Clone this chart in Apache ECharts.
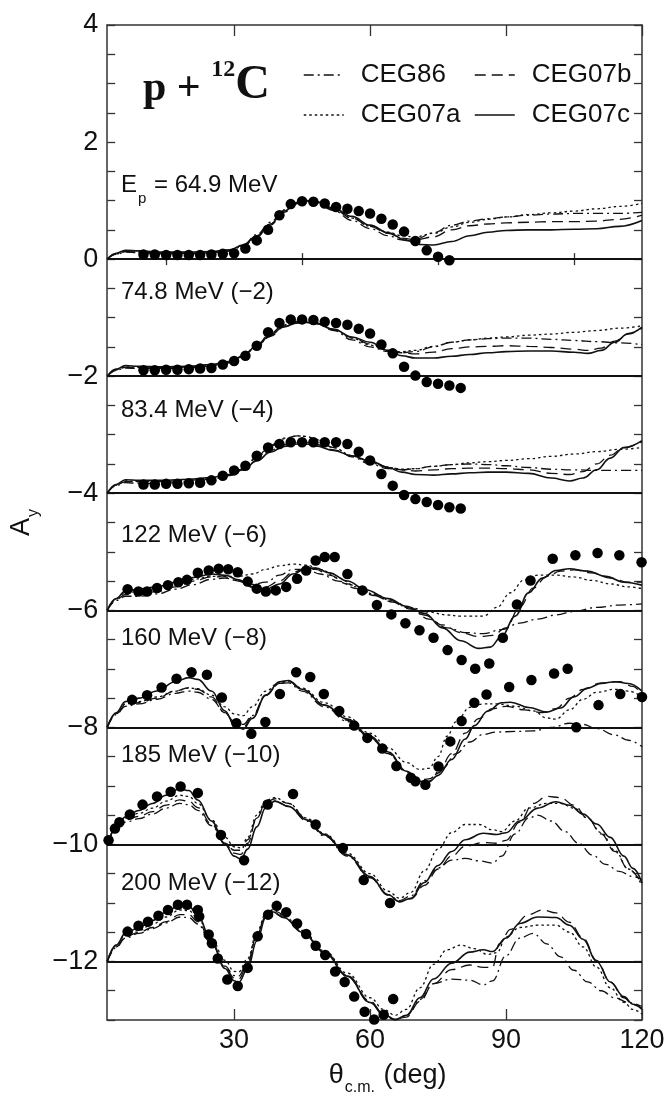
<!DOCTYPE html>
<html>
<head>
<meta charset="utf-8">
<title>p + 12C analyzing power</title>
<script src="https://cdn.jsdelivr.net/npm/echarts@6.0.0/dist/echarts.min.js"></script>
<style>
  html, body { margin: 0; padding: 0; background: #fff; }
  #chart { width: 670px; height: 1101px; }
</style>
</head>
<body>
<div id="chart"></div>
<script>
// 数据: [theta_cm (deg), A_y 已平移]
const xTicks = [30, 60, 90, 120];
const xMinorTicks = [15, 45, 75, 105];
const baselines = [0, -2, -4, -6, -8, -10, -12];
const energyLabels = ['{a|E}{s|p}{a| = 64.9 MeV}', '74.8 MeV (−2)', '83.4 MeV (−4)', '122 MeV (−6)',
  '160 MeV (−8)', '185 MeV (−10)', '200 MeV (−12)'];

// 64.9 MeV
const pts1 = [[10,0.08],[12.5,0.08],[15,0.07],[17.5,0.07],[20,0.07],[22.5,0.07],[25,0.08],[27.5,0.09],[30,0.1],[32.5,0.18],[35,0.32],[37.5,0.5],[40,0.75],[42.5,0.94],[45,0.99],[47.5,0.98],[50,0.95],[52.5,0.89],[55,0.86],[57.5,0.82],[60,0.78],[62.5,0.69],[65,0.59],[67.5,0.47],[70,0.31],[72.5,0.15],[75,0.04],[77.5,-0.02]];
const c1 = [[2,0],[4,0.1],[6,0.15],[9,0.14],[14,0.12],[20,0.12],[25,0.13],[29,0.16],[32,0.24],[35,0.4],[38,0.6],[41,0.82],[44,0.96],[46,1.0],[48,0.98],[52,0.87],[56,0.73],[60,0.58],[64,0.45],[68,0.32],[71,0.25],[74,0.24],[78,0.3],[82,0.4],[86,0.46],[90,0.49],[95,0.5],[100,0.5],[105,0.51],[110,0.52],[115,0.56],[120,0.66]];
const b1 = [[2,0],[4,0.09],[6,0.13],[9,0.12],[14,0.1],[20,0.1],[25,0.11],[29,0.14],[32,0.22],[35,0.38],[38,0.58],[41,0.8],[44,0.95],[46,0.99],[48,0.97],[52,0.85],[56,0.7],[60,0.56],[64,0.44],[67,0.36],[70,0.33],[74,0.38],[78,0.5],[82,0.57],[86,0.6],[90,0.62],[95,0.63],[100,0.64],[105,0.64],[110,0.65],[115,0.68],[120,0.75]];
const d1 = [[2,0],[4,0.08],[6,0.12],[9,0.11],[14,0.09],[20,0.09],[25,0.1],[29,0.14],[32,0.24],[35,0.42],[38,0.63],[41,0.84],[44,0.97],[46,1.0],[48,0.97],[52,0.83],[56,0.66],[60,0.52],[64,0.4],[67,0.33],[70,0.34],[74,0.45],[78,0.58],[82,0.65],[86,0.69],[90,0.72],[95,0.75],[100,0.77],[105,0.78],[110,0.78],[115,0.78],[120,0.8]];
const a1 = [[2,0],[4,0.09],[6,0.13],[9,0.12],[14,0.1],[20,0.1],[25,0.11],[29,0.14],[32,0.22],[35,0.38],[38,0.6],[41,0.83],[44,0.97],[46,1.0],[48,0.98],[52,0.86],[56,0.7],[60,0.56],[64,0.46],[67,0.4],[70,0.38],[74,0.44],[78,0.55],[82,0.63],[86,0.68],[90,0.72],[95,0.76],[100,0.79],[105,0.82],[110,0.86],[115,0.9],[120,0.95]];

// 74.8 MeV (-2)
const pts2 = [[10,-1.9],[12.5,-1.9],[15,-1.89],[17.5,-1.89],[20,-1.88],[22.5,-1.87],[25,-1.86],[27.5,-1.8],[30,-1.74],[32.5,-1.65],[35,-1.48],[37.5,-1.25],[40,-1.09],[42.5,-1.03],[45,-1.03],[47.5,-1.04],[50,-1.07],[52.5,-1.09],[55,-1.12],[57.5,-1.19],[60,-1.27],[62.5,-1.46],[65,-1.61],[67.5,-1.84],[70,-1.99],[72.5,-2.1],[75,-2.13],[77.5,-2.16],[80,-2.2]];
const c2 = [[2,-2],[4,-1.88],[6,-1.82],[9,-1.83],[14,-1.84],[20,-1.83],[25,-1.8],[29,-1.75],[32,-1.65],[35,-1.48],[38,-1.3],[41,-1.15],[44,-1.09],[46,-1.08],[48,-1.1],[52,-1.2],[56,-1.33],[60,-1.42],[64,-1.56],[67,-1.65],[70,-1.69],[74,-1.69],[78,-1.66],[82,-1.63],[86,-1.6],[90,-1.58],[95,-1.57],[100,-1.57],[105,-1.59],[108,-1.61],[111,-1.56],[114,-1.42],[117,-1.27],[120,-1.16]];
const b2 = [[2,-2],[4,-1.9],[6,-1.85],[9,-1.86],[14,-1.86],[20,-1.85],[25,-1.82],[29,-1.77],[32,-1.67],[35,-1.5],[38,-1.32],[41,-1.16],[44,-1.09],[46,-1.08],[48,-1.1],[52,-1.2],[56,-1.34],[60,-1.45],[64,-1.55],[67,-1.6],[70,-1.62],[74,-1.59],[78,-1.53],[82,-1.5],[86,-1.49],[90,-1.48],[95,-1.49],[100,-1.51],[105,-1.54],[108,-1.56],[111,-1.52],[114,-1.4],[117,-1.28],[120,-1.18]];
const d2 = [[2,-2],[4,-1.9],[6,-1.86],[9,-1.87],[14,-1.87],[20,-1.86],[25,-1.83],[29,-1.77],[32,-1.65],[35,-1.46],[38,-1.27],[41,-1.12],[44,-1.06],[46,-1.06],[48,-1.09],[52,-1.22],[56,-1.38],[60,-1.5],[64,-1.58],[67,-1.6],[70,-1.58],[74,-1.5],[78,-1.42],[82,-1.38],[86,-1.36],[90,-1.35],[95,-1.35],[100,-1.37],[105,-1.39],[110,-1.41],[115,-1.43],[120,-1.46]];
const a2 = [[2,-2],[4,-1.89],[6,-1.84],[9,-1.85],[14,-1.85],[20,-1.84],[25,-1.81],[29,-1.76],[32,-1.66],[35,-1.49],[38,-1.3],[41,-1.14],[44,-1.07],[46,-1.06],[48,-1.08],[52,-1.2],[56,-1.35],[60,-1.47],[64,-1.56],[67,-1.58],[70,-1.56],[74,-1.49],[78,-1.42],[82,-1.38],[86,-1.35],[90,-1.33],[95,-1.3],[100,-1.28],[105,-1.25],[110,-1.22],[115,-1.18],[120,-1.14]];

// 83.4 MeV (-4)
const pts3 = [[10,-3.85],[12.5,-3.85],[15,-3.84],[17.5,-3.84],[20,-3.83],[22.5,-3.82],[25,-3.78],[27.5,-3.7],[30,-3.61],[32.5,-3.53],[35,-3.36],[37.5,-3.22],[40,-3.16],[42.5,-3.13],[45,-3.13],[47.5,-3.13],[50,-3.13],[52.5,-3.13],[55,-3.16],[57.5,-3.29],[60,-3.44],[62.5,-3.67],[65,-3.87],[67.5,-4.03],[70,-4.1],[72.5,-4.15],[75,-4.2],[77.5,-4.24],[80,-4.26]];
const c3 = [[2,-4],[4,-3.85],[6,-3.77],[9,-3.78],[14,-3.78],[20,-3.76],[25,-3.73],[29,-3.68],[32,-3.6],[35,-3.45],[38,-3.3],[41,-3.2],[44,-3.16],[46,-3.16],[48,-3.19],[52,-3.27],[56,-3.36],[60,-3.45],[64,-3.56],[67,-3.64],[70,-3.68],[74,-3.69],[78,-3.67],[82,-3.65],[86,-3.64],[90,-3.64],[95,-3.66],[100,-3.74],[104,-3.79],[107,-3.74],[110,-3.6],[113,-3.4],[116,-3.22],[120,-3.1]];
const b3 = [[2,-4],[4,-3.86],[6,-3.8],[9,-3.8],[14,-3.8],[20,-3.78],[25,-3.75],[29,-3.69],[32,-3.6],[35,-3.44],[38,-3.27],[41,-3.17],[44,-3.13],[46,-3.13],[48,-3.16],[52,-3.26],[56,-3.36],[60,-3.45],[64,-3.55],[67,-3.6],[70,-3.62],[74,-3.6],[78,-3.58],[82,-3.57],[86,-3.57],[90,-3.58],[95,-3.6],[100,-3.66],[104,-3.68],[107,-3.63],[110,-3.5],[113,-3.35],[116,-3.22],[120,-3.12]];
const d3 = [[2,-4],[4,-3.87],[6,-3.82],[9,-3.83],[14,-3.83],[20,-3.8],[25,-3.76],[29,-3.7],[32,-3.58],[35,-3.38],[38,-3.18],[41,-3.06],[44,-3.02],[46,-3.03],[48,-3.08],[52,-3.22],[56,-3.38],[60,-3.5],[64,-3.58],[67,-3.6],[70,-3.58],[74,-3.54],[78,-3.51],[82,-3.5],[86,-3.51],[90,-3.53],[95,-3.56],[100,-3.59],[105,-3.6],[110,-3.61],[115,-3.61],[120,-3.61]];
const a3 = [[2,-4],[4,-3.86],[6,-3.79],[9,-3.8],[14,-3.8],[20,-3.78],[25,-3.74],[29,-3.68],[32,-3.58],[35,-3.4],[38,-3.2],[41,-3.07],[44,-3.02],[46,-3.03],[48,-3.08],[52,-3.22],[56,-3.36],[60,-3.48],[64,-3.56],[67,-3.59],[70,-3.58],[74,-3.54],[78,-3.51],[82,-3.48],[86,-3.46],[90,-3.44],[95,-3.41],[100,-3.37],[105,-3.33],[110,-3.29],[115,-3.25],[120,-3.22]];

// 122 MeV (-6)
const pts4 = [[6.5,-5.64],[8.9,-5.68],[10.8,-5.68],[13,-5.62],[15.4,-5.57],[17.7,-5.52],[19.6,-5.48],[22,-5.36],[24.4,-5.32],[26.6,-5.29],[28.7,-5.3],[30.8,-5.35],[33,-5.51],[35,-5.63],[37,-5.68],[39.2,-5.66],[41.5,-5.6],[43.9,-5.46],[45.9,-5.32],[48,-5.15],[50,-5.09],[52.2,-5.09],[55,-5.38],[58.3,-5.66],[61.5,-5.91],[64.7,-6.07],[67.8,-6.22],[70.9,-6.34],[74,-6.47],[77.1,-6.68],[80.2,-6.85],[83.2,-7.0],[86.3,-6.91],[89.3,-6.47],[92.4,-5.9],[95.4,-5.49],[100.3,-5.12],[105.3,-5.06],[110.2,-5.02],[115,-5.06],[119.9,-5.18]];
const c4 = [[2,-6],[4,-5.8],[6,-5.67],[9,-5.64],[13,-5.6],[17,-5.52],[21,-5.44],[25,-5.38],[28,-5.4],[31,-5.48],[34,-5.6],[37,-5.64],[40,-5.55],[43,-5.38],[46,-5.28],[48,-5.28],[51,-5.36],[55,-5.5],[59,-5.65],[64,-5.8],[68,-5.93],[72,-6.05],[76,-6.3],[80,-6.52],[84,-6.65],[86.5,-6.63],[89,-6.45],[92,-6.1],[95,-5.7],[98,-5.45],[101,-5.32],[104,-5.29],[108,-5.33],[112,-5.42],[116,-5.52],[120,-5.57]];
const b4 = [[2,-6],[4,-5.82],[6,-5.73],[9,-5.73],[13,-5.68],[17,-5.6],[21,-5.5],[25,-5.43],[28,-5.43],[31,-5.5],[34,-5.6],[37,-5.6],[40,-5.5],[43,-5.35],[46,-5.28],[48,-5.3],[51,-5.4],[55,-5.55],[59,-5.68],[64,-5.82],[68,-5.95],[72,-6.08],[76,-6.25],[80,-6.38],[84,-6.45],[87,-6.43],[90,-6.3],[93,-5.95],[96,-5.62],[99,-5.42],[102,-5.33],[105,-5.31],[109,-5.36],[113,-5.45],[117,-5.52],[120,-5.52]];
const d4 = [[2,-6],[4,-5.83],[6,-5.76],[9,-5.76],[13,-5.72],[17,-5.64],[21,-5.56],[25,-5.47],[28,-5.45],[31,-5.5],[34,-5.56],[37,-5.52],[40,-5.4],[43,-5.3],[46,-5.3],[49,-5.38],[53,-5.5],[57,-5.63],[61,-5.75],[65,-5.86],[69,-5.98],[73,-6.15],[77,-6.3],[81,-6.38],[85,-6.4],[89,-6.33],[93,-6.22],[97,-6.15],[101,-6.08],[105,-6.02],[110,-5.95],[115,-5.91],[120,-5.89]];
const a4 = [[2,-6],[4,-5.8],[6,-5.7],[9,-5.68],[13,-5.63],[17,-5.55],[21,-5.47],[25,-5.42],[28,-5.42],[31,-5.42],[34,-5.38],[37,-5.3],[40,-5.24],[43,-5.21],[46,-5.23],[49,-5.3],[53,-5.45],[57,-5.6],[61,-5.73],[65,-5.85],[69,-5.96],[73,-6.03],[77,-6.08],[80,-6.1],[82,-6.1],[85,-6.1],[88,-5.95],[91,-5.7],[94,-5.48],[97,-5.4],[101,-5.4],[105,-5.43],[109,-5.49],[113,-5.55],[117,-5.6],[120,-5.63]];

// 160 MeV (-8)
const pts5 = [[7.5,-7.53],[10.8,-7.45],[14,-7.32],[17.3,-7.17],[20.6,-7.06],[24,-7.1],[27.3,-7.49],[30.5,-7.93],[33.8,-8.11],[36.9,-7.91],[40.1,-7.43],[43.7,-7.06],[46.8,-7.14],[49.8,-7.43],[53.2,-7.72],[56.5,-7.97],[59.4,-8.18],[62.7,-8.36],[65.8,-8.66],[69,-8.86],[70,-8.92],[72.2,-8.98],[75.1,-8.67],[77.7,-8.24],[80.2,-7.89],[83,-7.58],[85.7,-7.44],[90.7,-7.31],[95.6,-7.19],[100.6,-7.08],[103.6,-7.0],[105.5,-8.0],[110.4,-7.62],[115.2,-7.43],[120,-7.48]];
const c5 = [[2,-8],[4,-7.75],[6,-7.56],[9,-7.5],[13,-7.38],[17,-7.22],[20,-7.15],[22,-7.18],[25,-7.38],[28,-7.72],[30,-7.95],[32,-8.03],[34,-7.85],[37,-7.45],[40,-7.22],[42,-7.2],[45,-7.35],[50,-7.62],[55,-7.86],[60,-8.15],[64,-8.42],[68,-8.75],[71,-8.92],[73,-8.93],[75,-8.82],[78,-8.55],[81,-8.2],[83,-7.97],[86,-7.72],[89,-7.58],[91,-7.57],[95,-7.66],[99,-7.74],[102,-7.67],[105,-7.48],[108,-7.33],[111,-7.25],[114,-7.22],[117,-7.25],[120,-7.38]];
const b5 = [[2,-8],[4,-7.77],[6,-7.62],[9,-7.58],[13,-7.5],[17,-7.38],[20,-7.32],[22,-7.35],[25,-7.48],[28,-7.75],[30,-7.95],[32,-8.0],[34,-7.82],[37,-7.45],[40,-7.25],[42,-7.22],[45,-7.35],[50,-7.62],[55,-7.88],[60,-8.17],[64,-8.45],[68,-8.77],[71,-8.93],[73,-8.92],[75,-8.78],[78,-8.45],[81,-8.1],[84,-7.85],[87,-7.68],[90,-7.64],[94,-7.7],[98,-7.75],[101,-7.68],[104,-7.5],[107,-7.35],[111,-7.24],[115,-7.22],[118,-7.3],[120,-7.45]];
const d5 = [[2,-8],[4,-7.78],[6,-7.64],[9,-7.6],[13,-7.52],[17,-7.42],[20,-7.38],[22,-7.4],[25,-7.52],[28,-7.75],[30,-7.9],[32,-7.95],[34,-7.8],[37,-7.45],[40,-7.25],[42,-7.24],[45,-7.38],[50,-7.65],[55,-7.9],[60,-8.18],[64,-8.45],[68,-8.75],[71,-8.9],[73,-8.88],[76,-8.7],[79,-8.45],[82,-8.25],[85,-8.12],[88,-8.08],[92,-8.07],[96,-8.06],[100,-8.0],[104,-7.93],[107,-7.95],[110,-8.02],[114,-8.13],[117,-8.22],[120,-8.33]];
const a5 = [[2,-8],[4,-7.76],[6,-7.6],[9,-7.56],[13,-7.48],[17,-7.38],[20,-7.33],[22,-7.34],[25,-7.45],[28,-7.65],[30,-7.77],[32,-7.8],[34,-7.65],[37,-7.38],[40,-7.23],[42,-7.22],[45,-7.33],[50,-7.58],[55,-7.82],[60,-8.1],[64,-8.35],[68,-8.6],[71,-8.72],[73,-8.7],[75,-8.5],[77,-8.15],[79,-7.9],[82,-7.66],[85,-7.6],[88,-7.6],[92,-7.64],[96,-7.72],[99,-7.84],[101,-7.86],[104,-7.7],[107,-7.52],[110,-7.4],[114,-7.35],[117,-7.38],[120,-7.48]];

// 185 MeV (-10)
const pts6 = [[2.3,-9.93],[3.7,-9.73],[4.7,-9.62],[7,-9.49],[9.8,-9.32],[13,-9.18],[16,-9.1],[18.2,-9.01],[22,-9.12],[27.1,-9.84],[32.2,-10.27],[37.4,-9.32],[43,-9.14],[48,-9.66],[54,-10.06],[58.6,-10.61],[64.4,-11.0]];
const c6 = [[2,-10],[4,-9.72],[6,-9.53],[9,-9.42],[12,-9.3],[15,-9.16],[18,-9.05],[20,-9.08],[22,-9.24],[25,-9.6],[28,-10.0],[30,-10.2],[31.5,-10.25],[33,-10.08],[35,-9.7],[37,-9.37],[39,-9.26],[42,-9.35],[46,-9.58],[50,-9.84],[55,-10.18],[60,-10.55],[64,-10.86],[66.5,-10.98],[69,-10.92],[72,-10.65],[75,-10.36],[78,-10.12],[81,-9.92],[85,-9.81],[88,-9.83],[90,-9.8],[93,-9.6],[97,-9.38],[101,-9.27],[104,-9.33],[107,-9.48],[110,-9.65],[113,-9.88],[116,-10.2],[118,-10.41],[120,-10.66]];
const b6 = [[2,-10],[4,-9.73],[6,-9.58],[9,-9.52],[12,-9.44],[15,-9.33],[18,-9.24],[20,-9.26],[22,-9.37],[25,-9.65],[28,-9.98],[30,-10.15],[31.5,-10.17],[33,-9.98],[35,-9.55],[37,-9.28],[39,-9.22],[42,-9.3],[46,-9.56],[50,-9.83],[55,-10.18],[60,-10.56],[64,-10.87],[66.5,-10.98],[69,-10.93],[72,-10.7],[75,-10.42],[78,-10.2],[81,-10.03],[85,-9.97],[88,-9.98],[90,-9.93],[93,-9.62],[96,-9.3],[99,-9.18],[102,-9.2],[105,-9.33],[108,-9.55],[111,-9.82],[114,-10.12],[117,-10.42],[120,-10.68]];
const d6 = [[2,-10],[4,-9.75],[6,-9.62],[9,-9.56],[12,-9.48],[15,-9.38],[18,-9.3],[20,-9.32],[22,-9.42],[25,-9.68],[28,-9.98],[30,-10.1],[31.5,-10.1],[33,-9.92],[35,-9.55],[37,-9.3],[39,-9.26],[42,-9.35],[46,-9.6],[50,-9.86],[55,-10.2],[60,-10.57],[64,-10.86],[66.5,-10.96],[69,-10.88],[72,-10.62],[75,-10.4],[78,-10.27],[81,-10.24],[84,-10.28],[87,-10.32],[89,-10.2],[92,-9.82],[95,-9.55],[97,-9.5],[100,-9.6],[103,-9.78],[106,-9.98],[109,-10.18],[112,-10.34],[115,-10.46],[118,-10.55],[120,-10.6]];
const a6 = [[2,-10],[4,-9.7],[6,-9.55],[9,-9.47],[12,-9.38],[15,-9.26],[18,-9.16],[20,-9.18],[22,-9.3],[25,-9.58],[28,-9.88],[30,-10.04],[31.5,-10.06],[33,-9.88],[35,-9.5],[37,-9.25],[39,-9.2],[42,-9.3],[46,-9.55],[50,-9.82],[55,-10.15],[60,-10.5],[64,-10.8],[66.5,-10.92],[69,-10.82],[72,-10.45],[75,-10.08],[78,-9.8],[81,-9.66],[84,-9.66],[87,-9.75],[89,-9.78],[92,-9.6],[95,-9.38],[99,-9.3],[102,-9.3],[105,-9.38],[108,-9.55],[111,-9.8],[114,-10.1],[117,-10.42],[120,-10.7]];

// 200 MeV (-12)
const pts7 = [[6.5,-11.49],[8.9,-11.39],[11,-11.32],[13.3,-11.22],[15.4,-11.12],[17.6,-11.03],[19.6,-11.03],[22,-11.12],[22.3,-11.23],[24.4,-11.54],[25.1,-11.69],[26.4,-11.95],[28.5,-12.31],[30.8,-12.42],[33,-12.11],[35.2,-11.57],[37.5,-11.2],[39.4,-11.05],[41.5,-11.16],[43.9,-11.35],[45.9,-11.53],[48,-11.73],[50.1,-11.89],[52.3,-12.17],[54.4,-12.35],[56.5,-12.6],[58.8,-12.86],[60.9,-12.99],[63,-12.91],[65.1,-12.64]];
const c7 = [[2,-12],[4,-11.72],[6,-11.52],[9,-11.42],[12,-11.3],[15,-11.16],[18,-11.03],[20,-11.05],[22,-11.22],[25,-11.65],[28,-12.12],[30,-12.33],[31,-12.36],[33,-12.12],[35,-11.65],[37,-11.25],[38.5,-11.15],[41,-11.25],[45,-11.5],[50,-11.85],[55,-12.25],[60,-12.7],[63,-12.9],[65.5,-12.99],[68,-12.92],[71,-12.62],[74,-12.3],[78,-12.03],[82,-11.84],[85,-11.8],[87,-11.83],[90,-11.6],[93,-11.35],[97,-11.24],[101,-11.25],[104,-11.38],[107,-11.62],[110,-12.0],[113,-12.35],[116,-12.6],[118,-12.73],[120,-12.82]];
const b7 = [[2,-12],[4,-11.75],[6,-11.58],[9,-11.5],[12,-11.42],[15,-11.32],[18,-11.2],[20,-11.2],[22,-11.32],[25,-11.68],[28,-12.1],[30,-12.28],[31,-12.3],[33,-12.05],[35,-11.55],[37,-11.2],[38.5,-11.12],[41,-11.2],[45,-11.48],[50,-11.84],[55,-12.24],[60,-12.68],[63,-12.9],[65.5,-12.99],[68,-12.95],[71,-12.68],[74,-12.38],[78,-12.14],[82,-12.06],[85,-12.1],[87,-12.1],[88.5,-11.7],[91,-11.45],[95,-11.2],[98,-11.12],[101,-11.17],[104,-11.33],[107,-11.6],[110,-11.98],[113,-12.35],[116,-12.62],[118,-12.74],[120,-12.8]];
const d7 = [[2,-12],[4,-11.76],[6,-11.6],[9,-11.52],[12,-11.44],[15,-11.34],[18,-11.24],[20,-11.25],[22,-11.36],[25,-11.7],[28,-12.08],[30,-12.24],[31,-12.25],[33,-12.0],[35,-11.55],[37,-11.22],[38.5,-11.16],[41,-11.25],[45,-11.5],[50,-11.86],[55,-12.26],[60,-12.7],[63,-12.92],[65.5,-13.0],[68,-12.93],[71,-12.65],[74,-12.38],[78,-12.3],[82,-12.32],[85,-12.4],[87,-12.33],[90,-11.9],[93,-11.6],[96,-11.52],[99,-11.7],[102,-11.92],[105,-12.15],[108,-12.35],[111,-12.5],[114,-12.62],[117,-12.7],[120,-12.77]];
const a7 = [[2,-12],[4,-11.72],[6,-11.55],[9,-11.47],[12,-11.36],[15,-11.24],[18,-11.12],[20,-11.13],[22,-11.27],[25,-11.62],[28,-11.98],[30,-12.17],[31,-12.18],[33,-11.95],[35,-11.5],[37,-11.18],[38.5,-11.12],[41,-11.22],[45,-11.47],[50,-11.82],[55,-12.2],[60,-12.62],[63,-12.82],[65.5,-12.92],[68,-12.82],[71,-12.45],[74,-12.05],[77,-11.8],[80,-11.72],[83,-11.78],[86,-11.88],[88,-11.85],[90,-11.58],[93,-11.42],[97,-11.38],[101,-11.38],[104,-11.5],[107,-11.75],[110,-12.1],[113,-12.45],[116,-12.7],[118,-12.82],[120,-12.9]];

const panels = [
  { pts: pts1, CEG86: d1, CEG07a: a1, CEG07b: b1, CEG07c: c1 },
  { pts: pts2, CEG86: d2, CEG07a: a2, CEG07b: b2, CEG07c: c2 },
  { pts: pts3, CEG86: d3, CEG07a: a3, CEG07b: b3, CEG07c: c3 },
  { pts: pts4, CEG86: d4, CEG07a: a4, CEG07b: b4, CEG07c: c4 },
  { pts: pts5, CEG86: d5, CEG07a: a5, CEG07b: b5, CEG07c: c5 },
  { pts: pts6, CEG86: d6, CEG07a: a6, CEG07b: b6, CEG07c: c6 },
  { pts: pts7, CEG86: d7, CEG07a: a7, CEG07b: b7, CEG07c: c7 },
];

// 线型
const lineTypes = {
  CEG86: { type: [10, 4, 2, 4], width: 1.3 },
  CEG07a: { type: [2.5, 3], width: 1.3 },
  CEG07b: { type: [11, 6], width: 1.3 },
  CEG07c: { type: 'solid', width: 1.6 },
};
const models = ['CEG86', 'CEG07b', 'CEG07a', 'CEG07c'];
const FONT = '"Liberation Sans", Arial, sans-serif';
const INK = '#111';

const series = [];
panels.forEach((p) => {
  models.forEach((m) => {
    series.push({
      name: m,
      type: 'line',
      data: p[m],
      smooth: 0.4,
      smoothMonotone: 'x',
      symbol: 'none',
      lineStyle: { color: INK, width: lineTypes[m].width, type: lineTypes[m].type },
      itemStyle: { color: INK },
      z: 3,
    });
  });
  series.push({
    name: 'data',
    type: 'scatter',
    data: p.pts,
    symbol: 'circle',
    symbolSize: 10.5,
    itemStyle: { color: '#000', opacity: 1 },
    z: 5,
  });
});
// 基线
series.push({
  name: 'baseline',
  type: 'line',
  data: [],
  markLine: {
    silent: true,
    symbol: 'none',
    label: { show: false },
    lineStyle: { color: INK, width: 1.8, type: 'solid' },
    data: baselines.map((v) => ({ yAxis: v })),
  },
  z: 4,
});

const legendPos = {
  CEG86: { left: 303, top: 60 },
  CEG07b: { left: 474, top: 60 },
  CEG07a: { left: 303, top: 100 },
  CEG07c: { left: 474, top: 100 },
};
const legends = models.map((m) => ({
  data: [m],
  left: legendPos[m].left,
  top: legendPos[m].top,
  padding: 0,
  itemWidth: 40,
  itemHeight: 14,
  selectedMode: false,
  itemStyle: { color: 'rgba(0,0,0,0)', borderWidth: 0, opacity: 0 },
  lineStyle: { width: 1.5, opacity: 1 },
  textStyle: { fontFamily: FONT, fontSize: 26, color: INK, lineHeight: 30, padding: [0, 0, 0, 12] },
}));

const labelY = [188, 295, 413, 538, 641, 758, 886];

const xBase = {
  type: 'value', min: 2, max: 120, gridIndex: 0,
  splitLine: { show: false },
  axisLine: { show: true, onZero: false, lineStyle: { color: '#333', width: 1.5 } },
};
const yBase = {
  type: 'value', min: -13, max: 4, interval: 0.5,
  splitLine: { show: false },
  axisLine: { show: true, onZero: false, lineStyle: { color: '#333', width: 1.5 } },
  axisTick: { show: true, inside: true, length: 8, lineStyle: { color: '#333', width: 1.3 } },
};
const fmtY = (v) => {
  if (Math.abs(v % 2) > 1e-9) return '';
  return v < 0 ? '−' + Math.abs(v) : String(v);
};

const option = {
  animation: false,
  backgroundColor: '#fff',
  grid: { left: 101, right: 28, top: 25, bottom: 78 },
  legend: legends,
  xAxis: [
    Object.assign({}, xBase, {
      position: 'bottom',
      axisTick: { show: true, inside: true, length: 11, customValues: xTicks, lineStyle: { color: '#333', width: 1.3 } },
      axisLabel: { show: true, customValues: xTicks, margin: 7, fontFamily: FONT, fontSize: 27, color: INK },
      name: '{t|θ}{s|c.m.}{t| (deg)}',
      nameLocation: 'middle',
      nameGap: 40,
      nameTextStyle: {
        padding: [0, 0, 0, 26],
        rich: {
          t: { fontFamily: FONT, fontSize: 27, color: INK, lineHeight: 32 },
          s: { fontFamily: FONT, fontSize: 16, color: INK, lineHeight: 16, verticalAlign: 'bottom', padding: [0, 1, -4, 1] },
        },
      },
    }),
    Object.assign({}, xBase, {
      position: 'bottom',
      axisLine: { show: false },
      axisTick: { show: true, inside: true, length: 6, customValues: xMinorTicks, lineStyle: { color: '#333', width: 1.3 } },
      axisLabel: { show: false },
    }),
    Object.assign({}, xBase, {
      position: 'top',
      axisTick: { show: true, inside: true, length: 11, customValues: xTicks, lineStyle: { color: '#333', width: 1.3 } },
      axisLabel: { show: false },
    }),
    Object.assign({}, xBase, {
      position: 'top',
      axisLine: { show: false },
      axisTick: { show: true, inside: true, length: 6, customValues: xMinorTicks, lineStyle: { color: '#333', width: 1.3 } },
      axisLabel: { show: false },
    }),
  ],
  yAxis: [
    Object.assign({}, yBase, {
      position: 'left',
      axisLabel: { show: true, formatter: fmtY, margin: 9, fontFamily: FONT, fontSize: 27, color: INK, showMinLabel: true, showMaxLabel: true },
      name: '{t|A}{s|y}',
      nameLocation: 'middle',
      nameGap: 62,
      nameTextStyle: {
        rich: {
          t: { fontFamily: FONT, fontSize: 27, color: INK, lineHeight: 32 },
          s: { fontFamily: FONT, fontSize: 16, color: INK, lineHeight: 16, verticalAlign: 'bottom', padding: [0, 0, -4, 1] },
        },
      },
    }),
    Object.assign({}, yBase, {
      position: 'right',
      axisLabel: { show: false },
    }),
  ],
  graphic: [
    {
      type: 'text',
      left: 143,
      top: 58,
      style: {
        text: '{p|p + }{sup|12}{c|C}',
        rich: {
          p: { fontFamily: '"Liberation Serif", "Times New Roman", serif', fontWeight: 'bold', fontSize: 42, fill: INK, lineHeight: 52, verticalAlign: 'bottom' },
          sup: { fontFamily: '"Liberation Serif", "Times New Roman", serif', fontWeight: 'bold', fontSize: 24, fill: INK, lineHeight: 24, verticalAlign: 'top' },
          c: { fontFamily: '"Liberation Serif", "Times New Roman", serif', fontWeight: 'bold', fontSize: 48, fill: INK, lineHeight: 52, verticalAlign: 'bottom' },
        },
      },
    },
  ].concat(energyLabels.map((t, i) => ({
    type: 'text',
    left: 121,
    top: labelY[i] - 15,
    style: {
      text: t,
      fontFamily: FONT,
      fontSize: 24,
      fill: INK,
      rich: {
        a: { fontFamily: FONT, fontSize: 24, fill: INK, lineHeight: 30 },
        s: { fontFamily: FONT, fontSize: 15, fill: INK, lineHeight: 15, verticalAlign: 'bottom', padding: [0, 1, -6, 1] },
      },
    },
  }))),
  series: series,
};

const chart = echarts.init(document.getElementById('chart'), null, { renderer: 'canvas' });
chart.setOption(option);
window.addEventListener('resize', () => chart.resize());
</script>
</body>
</html>
